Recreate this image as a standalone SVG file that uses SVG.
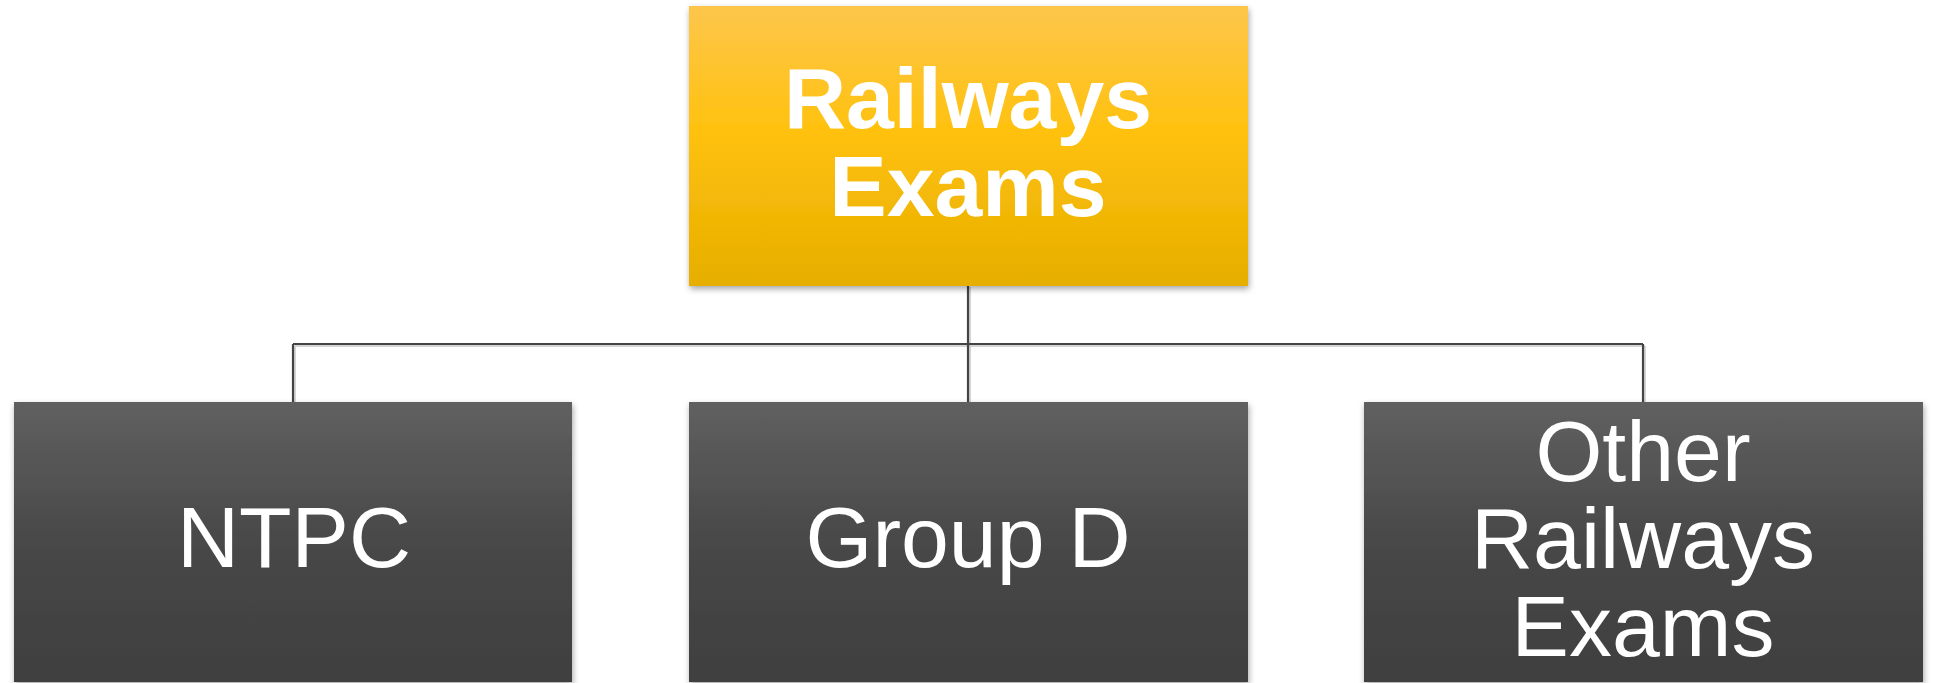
<svg xmlns="http://www.w3.org/2000/svg" width="1934" height="683" viewBox="0 0 1934 683">
<style>
.t{font-family:"Liberation Sans",Arial,sans-serif;fill:#fff;text-anchor:middle;font-size:86px}
.b{font-weight:bold}
.c{fill:none;stroke:#444;stroke-width:2.2}
.cs{fill:none;stroke:#c8c8c8;stroke-width:1.5}
</style>
<defs>
<linearGradient id="gy" x1="0" y1="0" x2="0" y2="1">
<stop offset="0" stop-color="#FDC64C"/>
<stop offset="0.45" stop-color="#FFC10D"/>
<stop offset="1" stop-color="#E6AE00"/>
</linearGradient>
<linearGradient id="gd" x1="0" y1="0" x2="0" y2="1">
<stop offset="0" stop-color="#606060"/>
<stop offset="0.55" stop-color="#464646"/>
<stop offset="1" stop-color="#404040"/>
</linearGradient>
<filter id="sh" x="-5%" y="-5%" width="110%" height="115%">
<feDropShadow dx="1" dy="3" stdDeviation="3" flood-color="#000" flood-opacity="0.35"/>
</filter>
</defs>
<g id="connectors">
<path class="cs" d="M970 287V402M295 346H1645M295 346V402M1645 346V402"/>
<path class="c" d="M968 286V402M293 344H1643M293 344V402M1643 344V402"/>
</g>
<g id="railways-exams">
<rect x="689" y="6" width="559" height="280" fill="url(#gy)" filter="url(#sh)"/>
<text class="t b" x="968" y="128">Railways</text>
<text class="t b" x="968" y="216">Exams</text>
</g>
<g id="ntpc">
<rect x="14" y="402" width="558" height="280" fill="url(#gd)" filter="url(#sh)"/>
<text class="t" x="294" y="567">NTPC</text>
</g>
<g id="group-d">
<rect x="689" y="402" width="559" height="280" fill="url(#gd)" filter="url(#sh)"/>
<text class="t" x="968" y="567">Group D</text>
</g>
<g id="other-railways-exams">
<rect x="1364" y="402" width="559" height="280" fill="url(#gd)" filter="url(#sh)"/>
<text class="t" x="1643" y="481">Other</text>
<text class="t" x="1643" y="568">Railways</text>
<text class="t" x="1643" y="656">Exams</text>
</g>
</svg>
